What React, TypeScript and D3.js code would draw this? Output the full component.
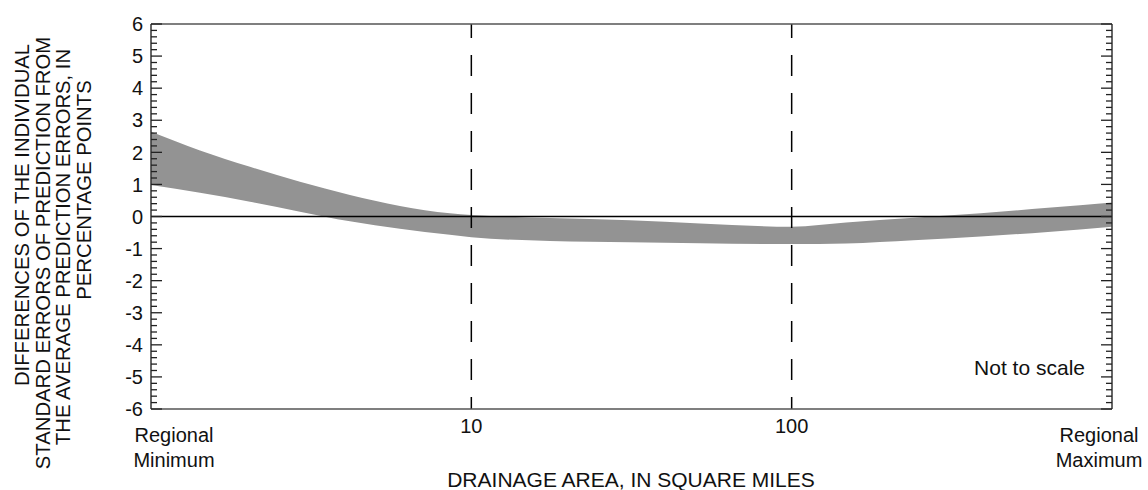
import React from "react";
import * as d3 from "d3";

// x positions are along the "not to scale" axis: 0 = Regional Minimum, 1 = 10, 2 = 100, 3 = Regional Maximum
const xTickPos = [0, 1, 2, 3];
const xTickLabels = [["Regional", "Minimum"], ["10"], ["100"], ["Regional", "Maximum"]];
const dashedAt = [1, 2];

const bandPos = [0, 0.153, 0.309, 0.465, 0.621, 0.777, 0.933, 1.0, 1.246, 1.495, 1.714, 2.0, 2.17, 2.38, 2.59, 2.8, 3.0];
const bandUpper = [2.64, 2.06, 1.55, 1.08, 0.67, 0.33, 0.1, 0.05, -0.05, -0.12, -0.22, -0.32, -0.19, -0.04, 0.1, 0.27, 0.44];
const bandLower = [0.98, 0.74, 0.46, 0.15, -0.15, -0.38, -0.57, -0.65, -0.76, -0.8, -0.83, -0.86, -0.84, -0.74, -0.62, -0.48, -0.32];

const yMajorTicks = [-6, -5, -4, -3, -2, -1, 0, 1, 2, 3, 4, 5, 6];
const yTitleLines = [
  "DIFFERENCES OF THE INDIVIDUAL",
  "STANDARD ERRORS OF PREDICTION FROM",
  "THE AVERAGE PREDICTION ERRORS, IN",
  "PERCENTAGE POINTS",
];
const yTitleCenters = [215, 253, 247, 190];
const xTitle = "DRAINAGE AREA, IN SQUARE MILES";
const note = "Not to scale";

const W = 1148;
const H = 490;
const M = { left: 151, top: 24, right: 36, bottom: 81 };
const FONT = "'Liberation Sans', Arial, Helvetica, sans-serif";

export default function App() {
  const x = d3.scaleLinear().domain([0, 3]).range([M.left, W - M.right]);
  const y = d3.scaleLinear().domain([-6, 6]).range([H - M.bottom, M.top]);
  const x0 = x.range()[0];
  const x1 = x.range()[1];
  const yTop = y(6);
  const yBot = y(-6);

  const data = bandPos.map((p, i) => ({ p, u: bandUpper[i], l: bandLower[i] }));
  const area = d3
    .area<{ p: number; u: number; l: number }>()
    .x((d) => x(d.p))
    .y0((d) => y(d.l))
    .y1((d) => y(d.u))
    .curve(d3.curveMonotoneX);

  const minorTicks = d3.range(-6, 6.001, 0.2).map((v) => Math.round(v * 10) / 10);

  return (
    <svg width={W} height={H} style={{ display: "block", position: "absolute", left: 0, top: 0 }} fontFamily={FONT}>
      <rect width={W} height={H} fill="#fff" />
      <path d={area(data) || ""} fill="#939393" />
      {/* zero line */}
      <line x1={x0} x2={x1} y1={y(0)} y2={y(0)} stroke="#000" strokeWidth={1.5} />
      {/* dashed verticals */}
      {dashedAt.map((d) => (
        <line key={d} x1={x(d)} x2={x(d)} y1={yTop} y2={yBot} stroke="#000" strokeWidth={1.5} strokeDasharray="21 17" strokeDashoffset={7} />
      ))}
      {/* frame */}
      <line x1={x0} x2={x1} y1={yTop} y2={yTop} stroke="#555" strokeWidth={1.5} />
      <line x1={x0} x2={x1} y1={yBot} y2={yBot} stroke="#555" strokeWidth={1.5} />
      <line x1={x0} x2={x0} y1={yTop} y2={yBot} stroke="#333" strokeWidth={1.5} />
      <line x1={x1} x2={x1} y1={yTop} y2={yBot} stroke="#333" strokeWidth={1.5} />
      {/* ticks */}
      {minorTicks.map((v) => {
        const major = Math.abs(v - Math.round(v)) < 1e-6;
        const len = major ? 11 : 6;
        return (
          <g key={v}>
            <line x1={x0} x2={x0 + len} y1={y(v)} y2={y(v)} stroke="#222" strokeWidth={1.3} />
            <line x1={x1} x2={x1 - len} y1={y(v)} y2={y(v)} stroke="#222" strokeWidth={1.3} />
          </g>
        );
      })}
      {yMajorTicks.map((v) => (
        <text key={v} x={143} y={y(v)} dy="0.36em" textAnchor="end" fontSize={20} fill="#111">
          {v}
        </text>
      ))}
      {/* x tick labels */}
      {xTickPos.map((p, i) => {
        const lines = xTickLabels[i];
        const cx = i === 0 ? x(p) + 23 : i === 3 ? x(p) - 13 : x(p);
        const baseY = lines.length > 1 ? 442 : 433;
        return (
          <text key={i} x={cx} y={baseY} textAnchor="middle" fontSize={20} fill="#111">
            {lines.map((t, j) => (
              <tspan key={j} x={cx} dy={j === 0 ? 0 : 25}>
                {t}
              </tspan>
            ))}
          </text>
        );
      })}
      <text x={631} y={487} textAnchor="middle" fontSize={21} fill="#111">
        {xTitle}
      </text>
      <text x={1085} y={375} textAnchor="end" fontSize={21} fill="#111">
        {note}
      </text>
      {/* y title */}
      {yTitleLines.map((t, i) => {
        const bx = 29 + i * 20.5;
        const cy = yTitleCenters[i];
        return (
          <text key={i} x={bx} y={cy} transform={`rotate(-90 ${bx} ${cy})`} textAnchor="middle" fontSize={20.3} fill="#111">
            {t}
          </text>
        );
      })}
    </svg>
  );
}
